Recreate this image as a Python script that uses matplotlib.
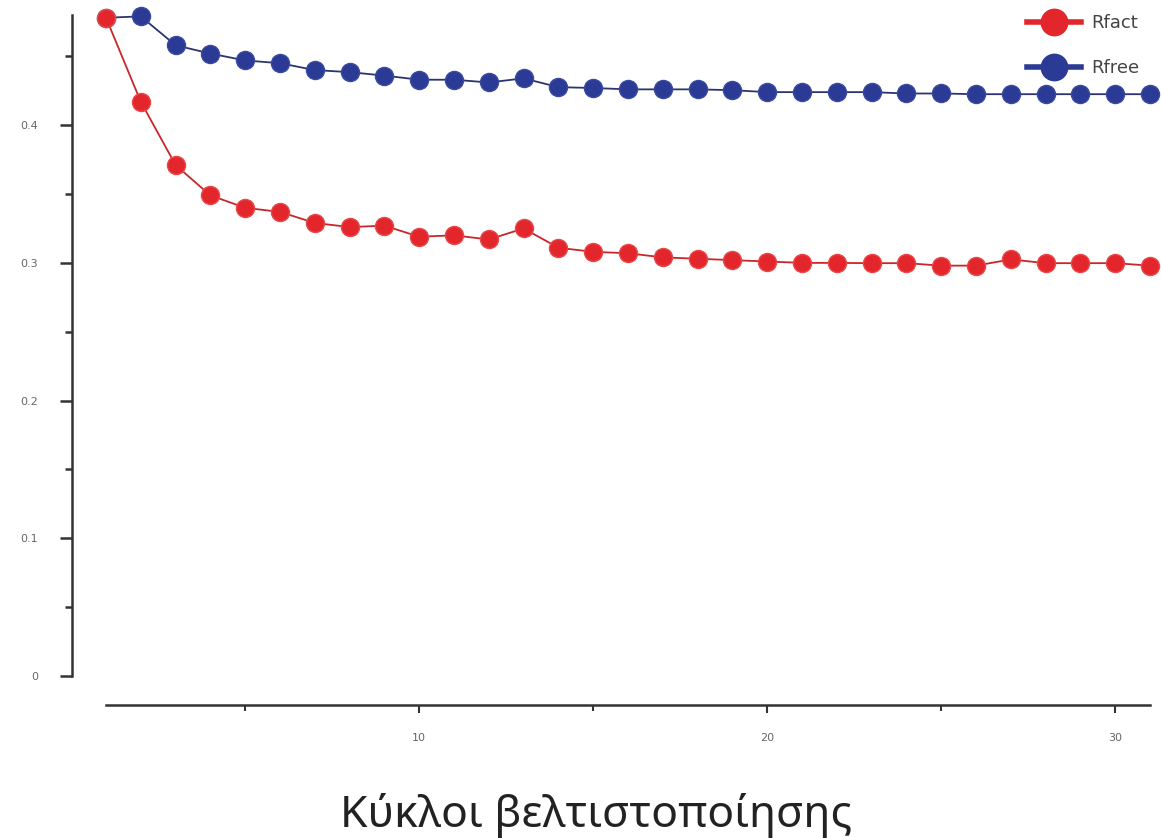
import matplotlib.pyplot as plt
from matplotlib.lines import Line2D
from matplotlib.ticker import MultipleLocator

# refinement cycles and R-factors
cycles = list(range(1, 32))
rfact = [0.478, 0.417, 0.371, 0.349, 0.340, 0.337, 0.329, 0.326, 0.327, 0.319,
         0.320, 0.317, 0.325, 0.311, 0.308, 0.307, 0.304, 0.303, 0.302, 0.301,
         0.300, 0.300, 0.2998, 0.2998, 0.298, 0.298, 0.3025, 0.2998, 0.2998, 0.2998,
         0.298]
rfree = [0.478, 0.479, 0.458, 0.452, 0.447, 0.445, 0.440, 0.4385, 0.436, 0.433,
         0.433, 0.431, 0.434, 0.4276, 0.427, 0.426, 0.426, 0.426, 0.4254, 0.424,
         0.424, 0.424, 0.424, 0.423, 0.423, 0.4225, 0.4225, 0.4225, 0.4225, 0.4225,
         0.4225]
series_names = ["Rfact", "Rfree"]

RED = "#e2262b"
BLUE = "#2b3b95"
AXIS = "#333333"

fig = plt.figure(figsize=(11.61, 8.38), dpi=100)
ax = fig.add_axes([0.0913, 0.1933, 0.8992, 0.7888])

ax.plot(cycles, rfree, color="#2a3570", lw=1.3, marker="o", ms=13,
        mfc=BLUE, mec="#3a4aa0", mew=1, clip_on=False, zorder=3)
ax.plot(cycles, rfact, color="#c8262a", lw=1.3, marker="o", ms=13,
        mfc=RED, mec="#e84a4a", mew=1, clip_on=False, zorder=4)

ax.set_xlim(1, 31)
ax.set_ylim(0, 0.48)

# detached axes, no box
for s in ("top", "right"):
    ax.spines[s].set_visible(False)
ax.spines["left"].set_position(("outward", 24.5))
ax.spines["bottom"].set_position(("outward", 21))
for s in ("left", "bottom"):
    ax.spines[s].set_color(AXIS)
    ax.spines[s].set_linewidth(1.8)

ax.xaxis.set_major_locator(MultipleLocator(10))
ax.xaxis.set_minor_locator(MultipleLocator(5))
ax.yaxis.set_major_locator(MultipleLocator(0.1))
ax.yaxis.set_minor_locator(MultipleLocator(0.05))
ax.set_yticks([0, 0.1, 0.2, 0.3, 0.4])
ax.set_yticklabels(["0", "0.1", "0.2", "0.3", "0.4"])
ax.set_xticks([10, 20, 30])
ax.set_xticklabels(["10", "20", "30"])

ax.tick_params(axis="y", which="major", length=8.5, width=1.8, color=AXIS,
               labelsize=8, labelcolor="#666666", pad=16)
ax.tick_params(axis="y", which="minor", length=5, width=1.8, color=AXIS)
ax.tick_params(axis="x", which="major", length=6, width=1.5, color=AXIS,
               labelsize=8, labelcolor="#666666", pad=14)
ax.tick_params(axis="x", which="minor", length=4, width=1.5, color=AXIS)

fig.text(0.513, 0.013, "Κύκλοι βελτιστοποίησης", ha="center", va="baseline",
         fontsize=32, color="#222222", family="Noto Sans")

handles = [
    Line2D([], [], color=RED, lw=4, marker="o", ms=19, mfc=RED, mec=RED),
    Line2D([], [], color=BLUE, lw=4, marker="o", ms=19, mfc=BLUE, mec=BLUE),
]
fig.legend(handles, series_names, loc="upper left",
           bbox_to_anchor=(1027 / 1161, 1 - 14 / 838), frameon=False,
           fontsize=13, borderpad=0, borderaxespad=0,
           handlelength=3.0, labelspacing=1.5, handletextpad=0.55,
           labelcolor="#444444")

fig.savefig("out.png", dpi=100)
